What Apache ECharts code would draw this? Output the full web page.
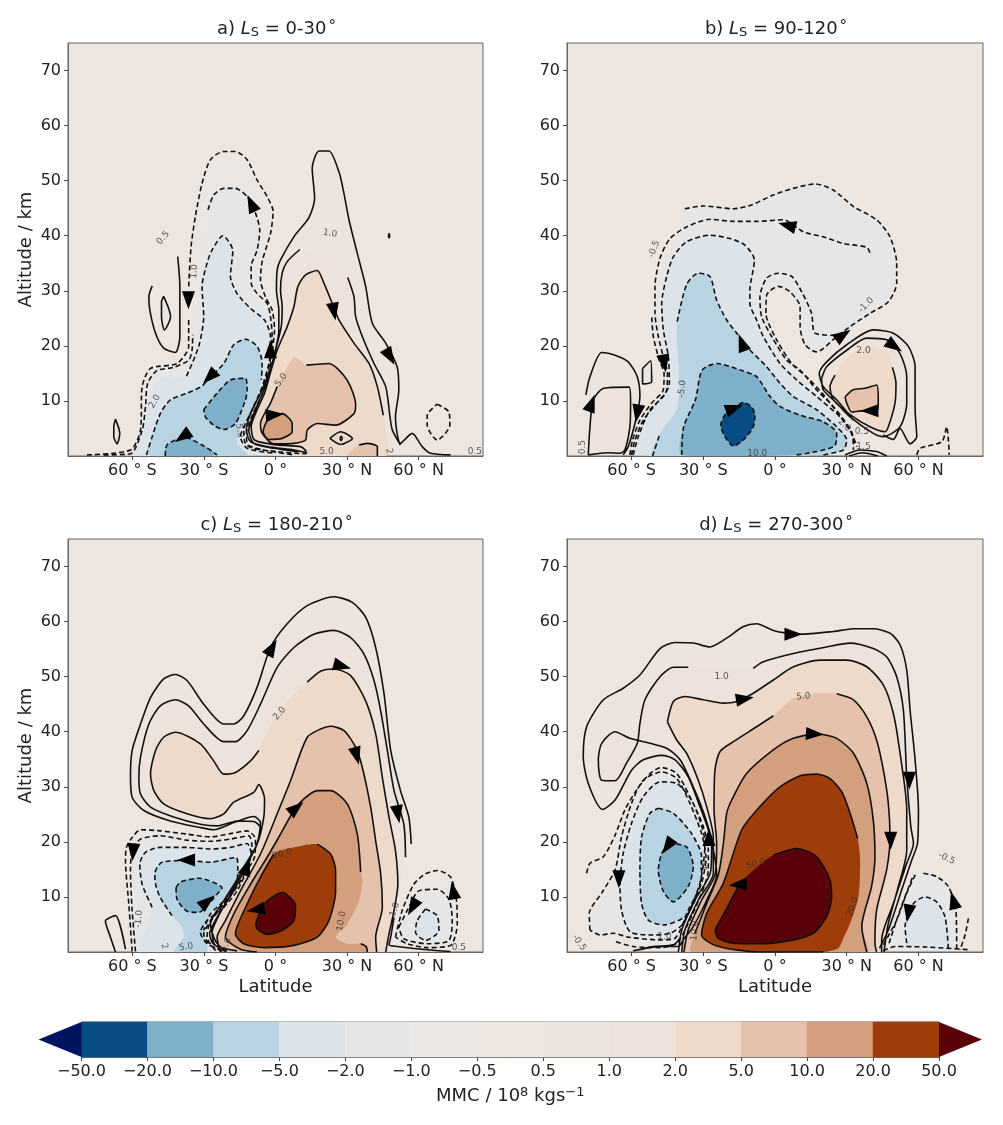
<!DOCTYPE html>
<html>
<head>
<meta charset="utf-8">
<title>MMC</title>
<script src="https://cdn.jsdelivr.net/npm/echarts@6/dist/echarts.min.js"></script>
<style>html,body{margin:0;padding:0;background:#fff}#main{width:1003px;height:1125px}</style>
</head>
<body>
<div id="main"></div>
<script>
// axes
var lat_ticks = [-60, -30, 0, 30, 60];
var lat_labels = ['60 ° S', '30 ° S', '0 °', '30 ° N', '60 ° N'];
var alt_ticks = [10, 20, 30, 40, 50, 60, 70];

// colour bar
var cbar_labels = ['−50.0', '−20.0', '−10.0', '−5.0', '−2.0', '−1.0', '−0.5', '0.5', '1.0', '2.0', '5.0', '10.0', '20.0', '50.0'];
var cbar_colors = ['#084c85', '#7fb0ca', '#b8d4e2', '#dce4ea', '#e6e6e6', '#e9e6e4', '#ece5e0', '#ede4df', '#eee3dc', '#eedaca', '#e6c1ab', '#d39f7c', '#9e3d0a'];
var cbar_under = '#00145f', cbar_over = '#5a0008';
var C = {n20: '#084c85', n10: '#7fb0ca', n5: '#b8d4e2', n2: '#dce4ea', n1: '#e6e6e6', n05: '#e9e6e4', p05: '#ede4df', p1: '#eee3dc', p2: '#eedaca', p5: '#e6c1ab', p10: '#d39f7c', p20: '#9e3d0a', p50: '#5a0008'};

// ---- panel a, Ls 0-30. contours are [lat, alt], null = gap in the line
var a_p05 = [[13.3,.6],[7.7,1.1],[-3.5,1.7],[-10.5,2.6],[-12.2,4.7],[-10.5,7.7],[-6.3,11.4],[-2.8,15],[-.7,18],[1.4,22.9],[1.4,26.5],[.4,30.1],[.7,33.8],[2.1,35.6],[7.7,39.8],[14,43.3],[16.4,46.8],[15.4,52.2],[18.2,55.4],[22.4,55.4],[26.6,51.6],[28.7,47.7],[30.8,42.9],[34.3,36.8],[37.8,30.8],[40.6,24.1],[46.2,20.5],[51,16.2],[51.7,12],[50.3,7.1],[52.4,2.3],[57.3,4.1],[61.5,1.7],[65,.5],[73.4,.2]];
var a_p1 = [[9.1,.8],[-.7,1.4],[-9.1,2.3],[-11.2,4.7],[-9.1,7.7],[-4.9,12],[-2.1,15.6],[0,19.2],[2.4,23.5],[2.8,27.1],[2.1,30.1],[2.8,33.2],[4.9,35.3],[10.2,37.5],null,[30.3,32.4],[32.9,28.9],[33.6,25.3],[36.4,21.7],[41.3,16.8],[46.2,12.6],[48,7.1],[49,4.7],[52.4,2]];
var a_p2 = [[45.2,7.4],[42.7,12.6],[39.2,16.8],[32.9,20.5],[26.6,24.7],[23.8,27.7],[20.3,31.4],[17.5,33.7],[12.6,32.9],[9.4,30.8],[7.7,27.1],[4.9,23.5],[.7,19.2],[-1.8,15.6],[-4.6,11.4],[-7.7,8.4],[-10.2,5.3],[-8.8,2.9],[.7,2],[10.5,1.7],[13,.8],null,[-3,0],null,[46,0]];
var a_p5 = [[13,16.5],[22.4,16.8],[30,13.8],[33.6,9.3],[32.9,7.7],[25.2,5.6],[17.5,5.9],[13.3,4.7],[12.6,2.9],[7.7,2.3],[-.7,2.2],[-5.6,4.1],[-6.3,5.9],[-2.1,9.6],[.7,12.6],null,[4.9,16.2],null,[8,18]];
var a_p5b = [[30,0],[32.9,1.4],[35,2],[38.5,2.3],[42.7,1.7],[42.7,0]];
var a_p10 = [[-3.5,6.5],[2.8,7.7],[7,5.9],[7,4.4],[2.8,3.2],[-2.8,3],[-5.2,4.4],[-3.5,6.5]];
var a_diamond = [[22.8,3.2],[27.3,4.4],[32.2,3.2],[27.3,2.1],[22.8,3.2],null,[27,3.2],[27.5,3.6],[28,3.2],[27.5,2.8],[27,3.2],null,[47.3,40],[47.6,40.4],[47.9,40],[47.6,39.6],[47.3,40]];
var a_loop1 = [[-41,36.2],[-40.1,30.8],[-40.1,21.7],[-42,18.8],[-46.9,19.6],[-50.3,22.3],[-52.7,26.5],[-53.1,28.9],[-51.7,30.9]];
var a_loop2 = [[-46.9,29],[-44.8,26.8],[-44,25.3],[-46.6,22.9],[-47.8,25.3],[-47.8,28],[-46.9,29]];
var a_loop3 = [[-67.1,6.7],[-65.3,4.1],[-66.4,2.2],[-67.8,3.5],[-67.8,5.3],[-67.1,6.7]];
var a_n05 = [[-36.4,30.8],[-35.4,38],[-33.6,43.5],[-30.8,49.5],[-27.3,53.8],[-21.7,55.3],[-16.8,55.3],[-11.9,53.8],[-7.7,50.1],[-3.5,47.1],[-1,44.4],[-2.1,40.4],[-5.6,35.3],[-6.3,32],[-4.2,28.9],[-1.4,26.5],[-.4,22.9],[-1.1,19.9],[-2.5,15.6],[-5.3,11.4],[-9.5,7.7],[-12.2,4.1],[-11.2,1.7],[.7,.8],[13,.4],null,[-79,.2],[-60.8,1.1],[-56.6,4.7],[-55.9,12.6],[-52.4,15.9],[-41.3,16.8],[-36.4,19.9],[-36.4,25.3]];
var a_n1 = [[-28.3,44.7],[-25.9,47.4],[-21.7,48.6],[-16.8,48.6],[-11.9,47.1],[-8.4,44.1],[-6.6,41],[-7.7,37.4],[-10.2,34.4],[-10.2,31.4],[-7.7,29.5],[-3.5,27.7],[-2.1,25.3],[-1.4,21.7],[-2.8,16.8],[-5.6,12.6],[-9.8,8.4],[-13.3,4.7],[-12.6,2.3],[-4.9,1.1],[7.7,.2],null,[-72,.2],[-60.8,.4],[-55.9,4.7],[-54.5,9],[-53.6,13.2],[-49.7,15.5],[-42.7,16.1],[-36.4,17.4],[-35,19.2],[-34.7,22]];
var a_n2 = [[-37.3,14.5],[-32.2,19.9],[-30.1,25.3],[-30.8,30.8],[-28.7,35],[-26.6,37.4],[-22.1,40],[-17.9,37.3],[-18.9,32.6],[-16.1,29.5],[-10.5,26.8],[-4.6,24.7],[-2.1,21.7],[-2.1,18],[-4.2,13.8],[-7.7,10.2],[-11.9,6.5],[-14.7,3.5],[-11.9,1.4],[-.7,.5],null,[-60.1,0],null,[-56.6,2.9],null,[-55.2,5.9],null,[-53.6,9.6],null,[-51,12.6],null,[-46.9,14.4]];
var a_n5 = [[-54.1,.2],[-51.7,3.5],[-48.3,7.7],[-44.1,10.2],[-37.1,11.4],[-30.8,12.7],[-28,14.1],[-21.7,16.8],[-17.5,20.2],[-12.6,21.2],[-7.7,19.9],[-5.6,16.8],[-5.9,13.8],null,[-7.7,10.8],null,[-11.2,7.1],null,[-14.7,4.7],null,[-16.1,2.3],null,[-11.9,.2]];
var a_n10a = [[-30.1,8.4],[-24.5,11.4],[-18.9,13.8],[-12.6,14.1],[-11.9,12],[-12.6,10.2],[-16.8,5.9],[-21.7,4.8],[-25.9,5.6],[-29.4,7.1],[-30.1,8.4]];
var a_n10b = [[-46.2,0],[-45.5,2],[-38.3,3.4],[-30.8,2],[-24.5,.2]];
var a_nr = [[67.8,9.4],[72.7,8],[73.1,5.6],[67.8,2.9],[63.6,5.6],[63.6,7.4],[67.8,9.4]];
var a_solid_bits = [[35,2],[38.5,2.3],[42.7,1.7],[42.7,0]];
var a_arrows = [[-36.5,28.3,-90],[-10.2,45.9,115],[-2.1,19.4,90],[24.5,26.2,-80],[48,18,-60],[-27.7,14.3,-135],[-39,3.5,-145],[-.3,7.5,5]];
var a_labels = [[-47.1,39.6,'0.5',50],[-34,33.5,'1.0',85],[-50.6,9.9,'2.0',60],[2.4,13.8,'5.0',55],[-15.1,4.6,'5.0',-80],[22.8,40.4,'1.0',-10],[21.4,.8,'5.0',0],[47.6,.9,'2',-80],[83.6,.7,'0.5',0]];

// ---- panel b, Ls 90-120
var b_n1 = [[-37.7,44.9],[-30,45.4],[-17.4,44.9],[-9.8,45.6],[-.7,47.4],[7.7,48.6],[16.7,49.4],[24.4,48.3],[32.8,45.3],[42.5,42.9],[48.1,39.8],[50.9,35],[50.9,31.4],[47.4,28],[39.7,25.9],[31.4,23.5],[25.1,21.4],[17.4,18.9],[12.6,20.2],[10.5,23.5],[10.5,27.1],[6.3,29.8],[1.4,30.8],[-3.5,29.2],[-3.8,25.9],[.7,21.1],[7,16.8],[13.9,14.1],[20.9,10.8],[27.9,6.8],[32.1,4.1],[34.2,1.7],null,[-60.7,.2],[-59.6,2.9],[-56.5,6.5],[-51.6,9.6],[-46.7,12],[-46.4,15],[-48.4,17.4],[-50.9,21.7],[-51.6,25.6]];
var b_u2 = [[25.1,21.9],[16.7,22.3],[15.3,25.9],[11.2,29.8],[7,32.6],[1.4,33.2],[-3.5,32.3],[-6.3,28.9],[-5.6,25.3],[-1.4,21.7],[4.9,17.4],[10.5,15.6],[17.4,12],[24.4,9],[30.7,5.3],[33.5,2.3]];
var b_n05 = [[39.7,36.9],[38.4,37.9],[28.6,38.6],[20.2,39.8],[11.9,40.7],[3.5,42.9],[-7.7,42.6],[-17.4,42.6],[-27.2,43],[-37,41.6],[-43.9,39.5],[-48.1,35.9],[-50.2,30.8],[-50.2,25.9],[-48.8,21.7],[-46.7,18],[-45,15],[-45.3,12],[-49.5,9.6],[-55.1,6.5],[-58.6,2.9],[-60,.2]];
var b_n2 = [[-59.3,.2],[-57.2,3.5],[-52.3,8.4],[-46.7,10.8],[-44.2,13.2],[-44.6,18],[-46.7,22.9],[-47.4,27.7],[-45.3,32.6],[-42.5,36.2],[-37,38.9],[-27.2,40.1],[-18.8,39.5],[-12.6,38.3],[-8.6,35.6],[-10.5,30.1],[-10.5,27.7],[-7.7,24.7],[-4.9,21.7],[2.1,16.8],[9.1,13.8],[17.4,10.8],[27.2,7.1],[32.1,4.4],[32.8,1.1]];
var b_n5 = [[-51.2,0],[-48.1,4.1],null,[-41.1,8.4],null,[-40,12.6],null,[-41.1,21.7],null,[-40.9,24.4],[-37,31.1],[-32.1,33.2],[-27.2,32.6],[-24.4,28.3],[-20.2,24.7],[-16,22.3],[-11.9,19.9],[-3.5,16.2],[2.1,13.2],[7.7,10.8],[17.4,8.4],[25.8,5.3],[30,2.9],[28.6,1.1],[19.8,.2]];
var b_n10 = [[-39,.2],[-38.2,5.3],[-33.3,10.2],[-30.5,15.6],[-24.2,16.8],[-14.5,15.6],[-7.7,14.4],[-2.1,10.8],[2.1,9],[10.5,7.4],[20.2,6.2],[25.8,4.1],[25.1,1.9],[17.4,.8],[9.1,.2]];
var b_n20 = [[-18,8.5],[-13.2,9.7],[-9.8,8.9],[-8.4,7.4],[-9.1,5.3],[-12.6,3.2],[-17.4,1.8],[-20.9,3.5],[-22.7,5.6],[-20.2,8],[-18,8.5]];
var b_l1 = [[-79.1,11.1],[-77.4,14.4],[-72.5,18.8],[-66.9,18.3],[-61.4,17.1],[-57.6,14.4],[-56.5,10.8],[-58.6,5.9],[-61.4,1.7],[-63.5,.2]];
var b_l2 = [[-78.1,.2],[-77.4,5.3],[-76,10.2],[-71.6,12.3],[-61,12.5],[-60.4,9.6],[-60.7,5.3],[-62.8,1.1],[-64.9,.5],[-70,.6],[-78.1,.2]];
var b_l3 = [[-55.4,15.9],[-52,17.3],[-51.6,13.5],[-55.4,13.1],[-55.4,15.9]];
var b_r1 = [[32.8,6.5],[25.8,10.2],[20.2,12.6],[18.5,15],[21.6,17.1],[30,20.2],[41.1,22.9],[49.5,22.3],[55.8,19.9],[58.6,16.2],[58.6,8.4],[59.3,3.5],[56.5,2.2],[52.3,5],[49.5,3],[45.3,3.8]];
var b_r2 = [[19.5,14.1],[21.6,16.2],[30,19.2],[38.4,21.4],[46.7,21.1],[52.3,18.6],[55.1,14.4],[55.1,9.6],[52.3,5.3],[45.3,3.5],[41.1,4.1],[31.4,7.1],[25.8,9.6],[20.2,12],[19.5,14.1]];
var b_r3 = [[25.1,14.7],[23,12.6],[24.4,10.2],[31.4,7.5],[39.7,5.3],[46,4.4],[47.4,5.3],[50.2,9.6],[50.6,13.2],[49.1,16.1],null,[47.4,18.9],null,[39.7,19.9],null,[34.2,19.2],null,[28.6,17.1]];
var b_r5 = [[29.3,10.7],[32.5,12],[37.7,12.3],[42.5,12.9],[43.2,10.2],[42.5,8],[36.2,8.2],[32.1,8],[30,9.6],[29.3,10.7]];
var b_nr = [[59.3,.2],[60.7,1.4],[69.8,2.6],[71.8,5.3],[72.9,.2]];
var b_base = [[29.3,.2],[35.6,1.1],[42.5,.8],[46.7,0],null,[31,0],[36.5,.6],[43,0]];
var b_arrows = [[-76.7,9.6,70],[-57.6,7.7,-100],[-46.3,16.8,-80],[-13.9,20.6,110],[-17,8.7,20],[28.5,22,35],[50,19.9,-35],[39.5,8.2,180],[5,41.9,165]];
var b_labels = [[-50.5,37.6,'-0.5',70],[38.1,27.4,'-1.0',45],[37,19.2,'2.0',0],[-38.8,12.2,'-5.0',85],[-7.4,.5,'10.0',0],[-80.5,1.6,'0.5',90],[36.3,4.4,'0.5',0],[37,1.7,'1.5',0],[29,5.6,'2.0',-45]];

// ---- panel c, Ls 180-210
var c_p05 = [[56.9,19.6],[55.9,24.5],[52.4,29.3],[48.3,36.6],[45.5,46.9],[42,55.3],[37.8,60.8],[32.2,63.5],[24.5,64.5],[13.3,62.9],[4.9,59.6],[-2.1,55.3],[-7.7,48.1],[-13.3,42.9],[-17.5,41.4],[-21.7,41.4],[-30.1,45],[-37.1,49.3],[-42,50.4],[-46.9,49.6],[-52.4,46.2],[-56.6,41.4],[-60.1,36.6],[-60.8,32],[-60.1,28.1],[-55.2,25.7],[-44.1,23.8],[-31.5,22.6],[-25.9,22.2],[-17.5,23.5],[-9.1,24.6],[-6.3,23.5],[-7.7,19.6],[-11.9,16],[-17.5,11.1],[-24.5,6.3],[-27.6,3.3],[-26.2,1.5],[-20.3,.2]];
var c_p1 = [[54.5,17.2],[53.8,23.2],[49.7,29.3],[46.9,36.6],[44.1,43.8],[41.3,49.3],[37.1,54.1],[31.5,57.1],[24.5,58.4],[16.1,57.7],[7.7,55.3],[.7,51.7],[-6.3,45],[-11.9,40.2],[-16.8,38.2],[-21.7,38.2],[-30.1,41.4],[-36.4,44.7],[-42,45.8],[-48.3,44.7],[-53.1,41.4],[-56.6,35.4],[-57.3,31.7],[-56.6,28.7],[-52.4,26.3],[-42.7,24.5],[-31.5,23.2],[-24.5,22.9],[-16.1,23.8],[-9.1,23.7],[-6.3,22.5],[-8.4,19],[-13.3,15.4],[-18.9,10.5],[-23.8,6.6],[-26.6,3.6],[-25.2,1.2],[-16.1,.2],null,[73.4,.1],[63.6,.4],[51,1],[47.6,1.3],[48.3,2.7],[49.7,6.3]];
var c_p2 = [[13.3,49],[18.9,51],[24.5,51.4],[31.5,50.2],[37.8,45.6],[42,39.6],[44.8,31.7],[47.6,24.5],[50.3,18.4],[51.3,12.3],[49.7,7.5],[47.6,3.3],[46.2,0],null,[-21,0],[-25.2,2],[-27.3,5.1],[-21.7,9.3],[-14.7,14.2],[-7.7,19.6],[-4.9,24.5],[-4.6,27.8],[-7,30.4],[-9.1,29],[-17.5,27.2],[-21.7,25.1],[-27.3,24.2],[-37.1,25.1],[-46.9,26.9],[-51,29.3],[-52.4,32.3],[-50.3,36.6],[-46.9,39],[-42,39.9],[-31.5,37.8],[-25.9,34.7],[-21.7,32.3],[-16.8,32.6],[-10.5,34.7],[-7,36.6],null,[-4.9,39],null,[.7,43.2],null,[7.7,46.9]];
var c_p5 = [[.7,25.1],[6.3,31.1],[13.3,39],[18.9,40.5],[23.1,41],[28.7,40.2],[33.6,37.2],[36.4,33.5],[39.9,26.3],[42,20.2],[44.1,14.2],[44.8,8.1],[42,2.7],[42.4,0],null,[-23.1,0],[-24.5,2.7],[-21,5.7],[-14.7,11.1],[-6.3,17.8],[.7,25.1]];
var c_p10 = [[35.7,14.5],[34.3,21.4],[30.1,26.9],[23.1,29.3],[17.5,29.3],[11.9,27.8],[7.7,25.7],[2.1,21.4],[-3.5,17.2],[-10.5,12.3],[-17.5,6.9],[-21,2.7],[-14.7,.5],[-7.7,0],null,[38.5,0],[38,1],[35.7,1.5],null,[30.1,1.5],null,[25.2,2.7],null,[30.1,5.1],null,[35,9.3],null,[36.4,13]];
var c_p20 = [[17.5,19.6],[23.1,17.8],[25.2,14.8],[25.2,11.1],[22.4,5.7],[17.5,2.7],[7.7,1.2],[-4.9,.8],[-13.3,1.5],[-16.8,3.3],[-11.9,8.7],[-6.3,13.6],[-.7,17.8],null,[7.7,19]];
var c_p50 = [[-8.3,5.1],[-6.3,7.5],[-3.5,9.3],[2.8,10.8],[8.4,8.4],[7.7,5.7],[2.8,3.9],[-3.5,3.2],[-7.7,4.2],[-8.3,5.1]];
var c_n05 = [[-60.1,.1],[-61.5,8.7],[-62.9,16.6],[-62.5,19],[-60.1,20.8],[-56.6,22.2],[-48.3,22],[-37.1,21.4],[-27.3,20.9],[-18.9,21.5],[-11.9,22],[-8.4,20.5],[-8.8,17.2],[-11.9,14.8],[-16.1,11.1],[-21.7,8.1],[-28.7,5.7],[-31.5,3.6],[-28.7,1.5],[-21.7,.2]];
var c_n1 = [[-58.7,.1],[-60.1,7.5],[-60.8,14.8],[-60.1,18.4],[-56.6,20.5],[-48.3,21.1],[-37.1,20.3],[-27.3,20.1],[-18.9,20.5],[-11.2,21.1],[-9.8,19],[-11.2,16],[-15.4,12.3],[-21.7,8.7],[-28,5.1],[-30.1,3.3],[-27.3,1.2],[-21.7,.1]];
var c_n2 = [[-55.9,0],null,[-53.8,5.1],null,[-51.7,8.1],[-55.9,12.3],[-56.9,16],[-54.5,18.1],[-48.3,19],[-37.1,19],[-27.3,18.7],[-18.9,19],[-11.9,19.7],[-10.2,17.8],[-12.6,15.4],[-17.5,11.7],[-23.1,8.1],[-27.3,5.7],[-28.7,2.7],[-24.5,0]];
var c_n5 = [[-42.7,0],null,[-38.5,2.7],null,[-39.2,4.5],null,[-43.4,6.6],[-48.3,9.9],[-50.3,12.3],[-50.6,14.2],[-47.6,16.3],[-37.1,16.6],[-27.3,16.3],[-16.5,17.2],[-15.8,15.4],[-16.1,13],[-21.7,9.3],[-27.3,6.9],[-30.1,3.9],null,[-28.7,0]];
var c_n10 = [[-41.7,11.7],[-39.9,12.7],[-32.2,13.4],[-22.4,11.6],[-24.5,10.5],[-28.7,8.4],[-32.2,7.2],[-37.1,7.4],[-41.3,9.6],[-41.7,11.7]];
var c_l1 = [[-67.1,0],[-69.2,2.7],[-71.3,5.6],[-67.1,6.6],[-62.9,.5]];
var c_r1 = [[50.3,2.7],[53.1,7.5],[58,12.3],[62.9,14.2],[67.8,14.8],[73.4,13.6],[75.9,9.3],[76.2,5.1],[73.4,1.2],[63.6,.8],[55.2,1.5],[50.3,2.7]];
var c_r2 = [[51.7,4.5],[55.2,7.5],[60.1,11.1],[67.8,11.4],[72.7,9.6],[74.1,5.7],[72.7,2.1],[63.6,1.5],[53.8,2.4],[51.7,4.5]];
var c_r3 = [[62.9,7.8],[67.8,6.6],[68.5,3.9],[62.9,2.1],[58.7,3.6],[59.4,5.7],[62.9,7.8]];
var c_arrows = [[-59.7,18.1,-95],[-37.5,16.7,180],[-12,15.5,70],[-28.5,9.2,40],[-8.3,7.7,190],[8.8,26.2,40],[-1.4,55.3,60],[28,51.9,-15],[34,35.6,-75],[51.3,25,-80],[57.4,8.1,-120],[74.5,11.2,100]];
var c_labels = [[1.7,43.3,'2.0',50],[2.8,17.8,'20.0',15],[27.6,5.6,'10.0',80],[50,7.7,'1.0',70],[-57.3,6,'-1.0',85],[76.9,.7,'0.5',0],[-46.6,1,'2',-70],[-37.5,.9,'5.0',10],[-20.7,1.3,'5.0',60]];

// ---- panel d, Ls 270-300
var d_p05 = [[-56.5,.4],[-48.1,1],[-40.4,1],[-38.4,2.2],[-34.2,4.6],[-28.6,9.4],[-24.4,14],[-25.5,17.9],[-27.9,22.2],[-31.4,26.4],[-36.3,31.8],[-41.8,34.9],[-47.4,35.7],[-55.1,34.9],[-60,33],[-66.9,27.6],[-72.1,25.9],[-78.1,30.6],[-80.2,35.5],[-78.8,40.9],[-71.8,45.8],[-63.5,47.9],[-56.5,50.3],[-48.1,55.1],[-41.8,56.2],[-34.2,56.1],[-27.2,55.4],[-20.2,57],[-13.2,59.1],[-7.7,59.6],[-.7,58.4],[4.9,57.9],[10.5,57.7],[24.4,58.2],[32.8,58.7],[41.1,58.7],[48.1,57.9],[52.3,55.8],[55.1,51.2],[56.5,43.9],[58.6,34.9],[60,25.8],[59.6,19.7],[57.2,16.7],[53,11.3],[47.4,4],[43.7,.7]];
var d_p1 = [[44.6,0],[44.6,2.2],[49.5,8.8],[55.1,16.1],[57.9,19.7],[56.8,22.8],[55.1,31.8],[53.7,43.9],[50.9,50],[46.7,53.6],[41.1,55.1],[31.4,56.1],[21.6,55.4],[7.7,54.2],[-4.9,52.7],[-9.1,51.5],null,[-36.3,51.7],[-42.5,51.7],[-48.1,50],[-54.4,45.8],[-56.5,41.5],[-57.6,37.9],[-62.1,34.3],[-66.9,31.1],[-72.5,31.2],[-73.9,34.9],[-72.5,37.9],[-66.9,40],[-60.7,38.8],[-52.3,37.9],[-45.3,37],[-39.7,34.9],[-34.2,30],[-29.3,24.6],[-26.5,19.7],[-26.9,14.6],[-33.5,9.4],[-39,4],[-40.4,0]];
var d_p2 = [[-45,41.8],[-42.5,45.5],[-37.7,46.4],[-30,45.8],[-21.6,45.2],[-16,45.5],[-9.1,47],[-.7,49.4],[7.7,51.8],[18.8,53],[30,53],[38.4,51.8],[45.3,48.5],[49.5,43.3],[52.3,36.1],[55.1,25.8],[55.1,18.5],[51.6,11.9],[47.4,5.2],[45.6,0],null,[-39,0],[-37.7,4],[-32.1,9.4],[-25.8,14.3],[-25.8,20.9],[-28.6,26.4],[-32.1,31.2],[-37,36.1],[-41.1,38.5],[-45,41.8]];
var d_p5 = [[25.8,46.9],[32.8,45.8],[38.4,42.7],[42.5,38.5],[45.3,33.1],[47.4,27],[48.1,20.9],[46.7,14.9],[42.5,7.6],[41.8,1.6],[42.5,0],null,[-38.1,0],[-36.3,4],[-30.7,9.4],[-25.1,14],[-24.4,19.7],[-25.5,25.8],[-25.1,33.1],[-23,36.4],[-17.4,38.2],[-7.7,40.9],[-.7,42.9],null,[7.7,46.1],null,[17.4,47]];
var d_p10 = [[38.4,0],[36.3,4.6],[40.4,11.9],[41.8,17.3],[41.1,24],[38.4,30.6],[32.8,36.1],[25.8,38.8],[17.4,39.6],[7.7,38.8],[-.7,36.7],[-11.9,32.4],[-18.1,27.6],[-20.2,25.2],[-21.6,19.7],[-23.7,14],[-28.6,8.8],[-33.5,3.4],null,[-34.9,0]];
var d_p20 = [[34.6,20.6],[31.4,25.2],[27.9,29.1],[23,31.5],[17.4,32.3],[10.5,32],[2.1,30],[-6.3,26.4],[-13.9,22.2],[-21.6,12.5],[-28.6,7],[-30.7,3.1],[-24.4,1.1],[-6.3,0],[20.2,0],null,[26.5,.7],null,[28.6,2.5],null,[31.4,5.2],null,[34.9,10],null,[35.6,16.7]];
var d_p50 = [[-25.1,4],[-20.2,7.9],[-14.6,12.5],null,[-.7,17.6],[9.1,18.8],[17.4,17.3],[23,13.1],[23.7,10],[21.6,6.4],[16,3.4],[7.7,2.2],[-6.3,1.5],[-17.4,1.6],[-23.7,2.5],[-25.1,4]];
var d_n05 = [[-78.8,14.3],[-77.4,16.1],[-71.8,17.3],[-66.9,21.2],[-62.8,25.8],[-57.9,29.4],[-52.3,32.4],[-47.4,33.5],[-41.1,32.4],[-34.9,27.6],[-30,22.8],[-27.9,18.5],[-27.9,14.9],[-30.7,10.7],[-36.3,5.2],[-41.1,1.6],[-48.1,.8],[-59.3,1],[-66.9,1.9]];
var d_n1 = [[-77.4,4],[-77.7,7],[-72.5,10.7],[-66.9,14.9],[-64.2,20.9],[-60,27],[-55.1,31.2],[-47.4,32.7],[-41.1,31.5],[-35.6,27],[-30.7,21.5],[-28.9,17.3],[-30.7,12.5],[-36.3,7.6],[-41.8,2.5],[-48.1,2.2],[-61.4,2.7],[-67.6,3.4],[-73.2,3.1],[-77.4,4]];
var d_n2 = [[-64.9,13.1],[-63.5,17.9],[-60,23.4],[-55.1,28.2],[-48.1,30.9],[-41.1,30.6],[-34.2,27],[-29.3,19.7],[-31.4,12.5],[-38.4,5.2],[-43.9,3.4],[-52.3,3.1],[-60.7,3.7],[-64.2,7.6],[-64.9,13.1]];
var d_n5 = [[-48.8,26.1],[-42.5,25.2],[-34.9,21.5],[-30.7,17.3],[-30.7,14.3],[-32.8,10],[-37.7,6.4],[-46.7,4.9],[-53,5.8],[-55.8,8.8],[-56.5,14.9],[-55.8,20.9],[-52.3,25.2],[-48.8,26.1]];
var d_n10 = [[-44.6,19.7],[-37,19.1],[-34.2,15.5],[-36.3,11.9],[-42.5,9.1],[-46.7,11],[-48.8,14.9],[-47.4,17.9],[-44.6,19.7]];
var d_r1 = [[45.3,1.3],[50.9,5.8],[55.1,10.7],[59,14.3],null,[62.1,14.3],[67.6,13.7],[72.5,11.9],[75.7,7.6],[76,.7]];
var d_r0 = [[80.9,6.1],[79.5,3.1],[77.4,.4],null,[47.7,1.6],[52.3,7.6],[57.9,14]];
var d_r2 = [[55.1,1.6],[54.4,4.6],[57.9,8.8],[62.8,10],[67.6,9.1],[71.1,6.4],[72.5,.7]];
var d_r3 = [[45.3,.2],[50.2,1],[63.5,.9],[81.6,.4]];
var d_base = [[-59.3,.2],[-50.9,1],[-42.5,1.3],[-39.7,2.5]];
var d_arrows = [[7.7,57.7,0],[-12.6,46,10],[16.7,39.6,-3],[56.2,31.1,-90],[48.4,20.2,-90],[-27.6,20.9,90],[-45,19.2,-125],[-65.3,13.2,-90],[-15.6,12.2,185],[74.6,9.4,105],[55.8,7,-100]];
var d_labels = [[-22.3,50,'1.0',0],[11.9,46.4,'5.0',5],[-7.9,16,'50.0',15],[32.5,8.2,'20.0',70],[-33.5,3.9,'10.0',85],[71.8,17,'-0.5',-25],[-81.9,1.7,'-0.5',-55],[-46.3,2.7,'1.0',0],[-29.3,15.8,'10',90]];

var panels = [
  {left: 68, top: 43, width: 415, tag: 'a) ', range: '0-30', yName: true, xName: false,
   fills: [[a_n05,C.n05],[a_n1,C.n1],[a_n2,C.n2],[a_n5,C.n5],[a_n10a,C.n10],[a_n10b,C.n10],[a_p05,C.p05],[a_p1,C.p1],[a_p2,C.p2],[a_p5,C.p5],[a_p5b,C.p5],[a_p10,C.p10]],
   dashed: [a_n05,a_n1,a_n2,a_n5,a_n10a,a_n10b,a_nr], solid: [a_p05,a_p1,a_p2,a_p5,a_p10,a_solid_bits,a_diamond,a_loop1,a_loop2,a_loop3], arrows: a_arrows, labels: a_labels},
  {left: 567, top: 43, width: 416, tag: 'b) ', range: '90-120', yName: false, xName: false,
   fills: [[b_n1,C.n1],[b_n2,C.n2],[b_n5,C.n5],[b_n10,C.n10],[b_n20,C.n20],[b_l1,C.p05],[b_l2,C.p1],[b_r1,C.p05],[b_r2,C.p1],[b_r3,C.p2],[b_r5,C.p5]],
   dashed: [b_n1,b_u2,b_n05,b_n2,b_n5,b_n10,b_n20,b_nr], solid: [b_l1,b_l2,b_l3,b_r1,b_r2,b_r3,b_r5,b_base], arrows: b_arrows, labels: b_labels},
  {left: 68, top: 539, width: 415, tag: 'c) ', range: '180-210', yName: true, xName: true,
   fills: [[c_n05,C.n05],[c_n1,C.n1],[c_n2,C.n2],[c_n5,C.n5],[c_n10,C.n10],[c_r1,C.n05],[c_r2,C.n1],[c_r3,C.n2],[c_p05,C.p05],[c_p1,C.p1],[c_p2,C.p2],[c_p5,C.p5],[c_p10,C.p10],[c_p20,C.p20],[c_p50,C.p50]],
   dashed: [c_n05,c_n1,c_n2,c_n5,c_n10,c_r1,c_r2,c_r3], solid: [c_p05,c_p1,c_p2,c_p5,c_p10,c_p20,c_p50,c_l1], arrows: c_arrows, labels: c_labels},
  {left: 567, top: 539, width: 416, tag: 'd) ', range: '270-300', yName: false, xName: true,
   fills: [[d_p05,C.p05],[d_p1,C.p1],[d_p2,C.p2],[d_p5,C.p5],[d_p10,C.p10],[d_p20,C.p20],[d_p50,C.p50],[d_n05,C.n05],[d_n1,C.n1],[d_n2,C.n2],[d_n5,C.n5],[d_n10,C.n10],[d_r1,C.n1],[d_r2,C.n2]],
   dashed: [d_n05,d_n1,d_n2,d_n5,d_n10,d_r1,d_r0,d_r2,d_r3], solid: [d_p05,d_p1,d_p2,d_p5,d_p10,d_p20,d_p50,d_base], arrows: d_arrows, labels: d_labels}
];

var FONT = 'DejaVu Sans';
var SMOOTH = 0.25;
var grids = [], xAxes = [], yAxes = [], titles = [], series = [];

function joined(list) {
  // all contours of one style go in one line series, broken by gaps
  var out = [];
  list.forEach(function (arr) {
    arr.forEach(function (p) { out.push(p ? p : ['-', '-']); });
    out.push(['-', '-']);
  });
  return out;
}

panels.forEach(function (p, i) {
  grids.push({left: p.left, top: p.top, width: p.width, height: 413, show: true, backgroundColor: '#ece5e0', borderColor: '#666', borderWidth: 1});
  xAxes.push({
    type: 'value', gridIndex: i, min: -87, max: 87, splitLine: {show: false},
    name: p.xName ? 'Latitude' : '', nameLocation: 'middle', nameGap: 26, nameTextStyle: {fontFamily: FONT, fontSize: 18, color: '#222'},
    axisLine: {onZero: false, lineStyle: {color: '#666'}},
    axisTick: {show: true, length: 4, lineStyle: {color: '#444'}, customValues: lat_ticks},
    axisLabel: {fontFamily: FONT, fontSize: 16, color: '#222', margin: 7, customValues: lat_ticks,
      formatter: function (v) { return lat_labels[lat_ticks.indexOf(v)]; }}
  });
  yAxes.push({
    type: 'value', gridIndex: i, min: 0, max: 75, splitLine: {show: false},
    name: p.yName ? 'Altitude / km' : '', nameLocation: 'middle', nameGap: 33, nameTextStyle: {fontFamily: FONT, fontSize: 18, color: '#222'},
    axisLine: {onZero: false, lineStyle: {color: '#666'}},
    axisTick: {show: true, length: 4, lineStyle: {color: '#444'}, customValues: alt_ticks},
    axisLabel: {fontFamily: FONT, fontSize: 16, color: '#222', margin: 7, customValues: alt_ticks}
  });
  titles.push({
    left: p.left + p.width / 2 - 4, top: p.top - 29, textAlign: 'center',
    text: p.tag + '{i|L}{s|S} = ' + p.range + '{d|°}',
    textStyle: {fontFamily: FONT, fontSize: 18, fontWeight: 'normal', color: '#222',
      rich: {i: {fontFamily: FONT, fontSize: 18, fontStyle: 'italic', color: '#222'},
             s: {fontFamily: FONT, fontSize: 13, color: '#222', padding: [7, 0, 0, 0]},
             d: {fontFamily: FONT, fontSize: 15, color: '#222', padding: [0, 0, 4, 2]}}}
  });
  // filled levels, outermost first
  series.push({
    type: 'custom', xAxisIndex: i, yAxisIndex: i, z: 2, clip: true, silent: true,
    data: p.fills.map(function (f, k) { return [k, 0]; }),
    renderItem: function (params, api) {
      var f = p.fills[params.dataIndex];
      var pts = f[0].filter(Boolean).map(function (q) { return api.coord(q); });
      return {type: 'polygon', shape: {points: pts, smooth: SMOOTH}, style: {fill: f[1]}};
    }
  });
  series.push({type: 'line', xAxisIndex: i, yAxisIndex: i, z: 3, silent: true, showSymbol: false, symbol: 'none', smooth: SMOOTH, connectNulls: false,
    lineStyle: {color: '#111', width: 1.6}, data: joined(p.solid)});
  series.push({type: 'line', xAxisIndex: i, yAxisIndex: i, z: 3, silent: true, showSymbol: false, symbol: 'none', smooth: SMOOTH, connectNulls: false,
    lineStyle: {color: '#111', width: 1.6, type: [5, 3]}, data: joined(p.dashed)});
  series.push({type: 'scatter', xAxisIndex: i, yAxisIndex: i, z: 4, silent: true, symbol: 'triangle', symbolSize: [13, 18],
    symbolRotate: function (v) { return v[2] - 90; }, itemStyle: {color: '#000', opacity: 1}, data: p.arrows});
  series.push({type: 'scatter', xAxisIndex: i, yAxisIndex: i, z: 5, silent: true, symbolSize: 1, itemStyle: {color: 'transparent'},
    data: p.labels.map(function (l) {
      return {value: [l[0], l[1]], label: {show: true, position: 'inside', formatter: l[2], rotate: l[3], fontFamily: FONT, fontSize: 9, color: '#333'}};
    })});
});

// colour bar is its own grid, one cell per level
grids.push({left: 81.5, top: 1022, width: 857.5, height: 35, show: true, borderColor: '#666', borderWidth: 1});
xAxes.push({
  type: 'value', gridIndex: 4, min: 0, max: 13, interval: 1, splitLine: {show: false},
  name: 'MMC / 10{s|8} kgs{s|−1}', nameLocation: 'middle', nameGap: 29,
  nameTextStyle: {fontFamily: FONT, fontSize: 18, color: '#222',
    rich: {s: {fontFamily: FONT, fontSize: 13, color: '#222', padding: [0, 0, 7, 0]}}},
  axisLine: {lineStyle: {color: '#666'}},
  axisTick: {show: true, length: 4, lineStyle: {color: '#444'}},
  axisLabel: {fontFamily: FONT, fontSize: 16, color: '#222', margin: 7, hideOverlap: false, showMinLabel: true, showMaxLabel: true,
    formatter: function (v) { return cbar_labels[v]; }}
});
yAxes.push({type: 'value', gridIndex: 4, min: 0, max: 1, show: false});
series.push({
  type: 'custom', xAxisIndex: 4, yAxisIndex: 4, z: 2, clip: false, silent: true,
  data: cbar_colors.map(function (c, k) { return [k, 0]; }),
  renderItem: function (params, api) {
    var k = params.dataIndex;
    return {type: 'polygon', shape: {points: [api.coord([k, 0]), api.coord([k + 1, 0]), api.coord([k + 1, 1]), api.coord([k, 1])]}, style: {fill: cbar_colors[k], stroke: cbar_colors[k], lineWidth: 0.5}};
  }
});
series.push({
  type: 'custom', xAxisIndex: 4, yAxisIndex: 4, z: 2, clip: false, silent: true,
  data: [[0, 0], [13, 0]],
  renderItem: function (params, api) {
    var under = params.dataIndex === 0;
    var base = under ? 0 : 13, tip = under ? -0.652 : 13.652;
    return {type: 'polygon', shape: {points: [api.coord([base, 0]), api.coord([base, 1]), api.coord([tip, 0.5])]}, style: {fill: under ? cbar_under : cbar_over}};
  }
});

var chart = echarts.init(document.getElementById('main'));
chart.setOption({
  animation: false, backgroundColor: '#fff',
  title: titles, grid: grids, xAxis: xAxes, yAxis: yAxes, series: series
});
</script>
</body>
</html>
